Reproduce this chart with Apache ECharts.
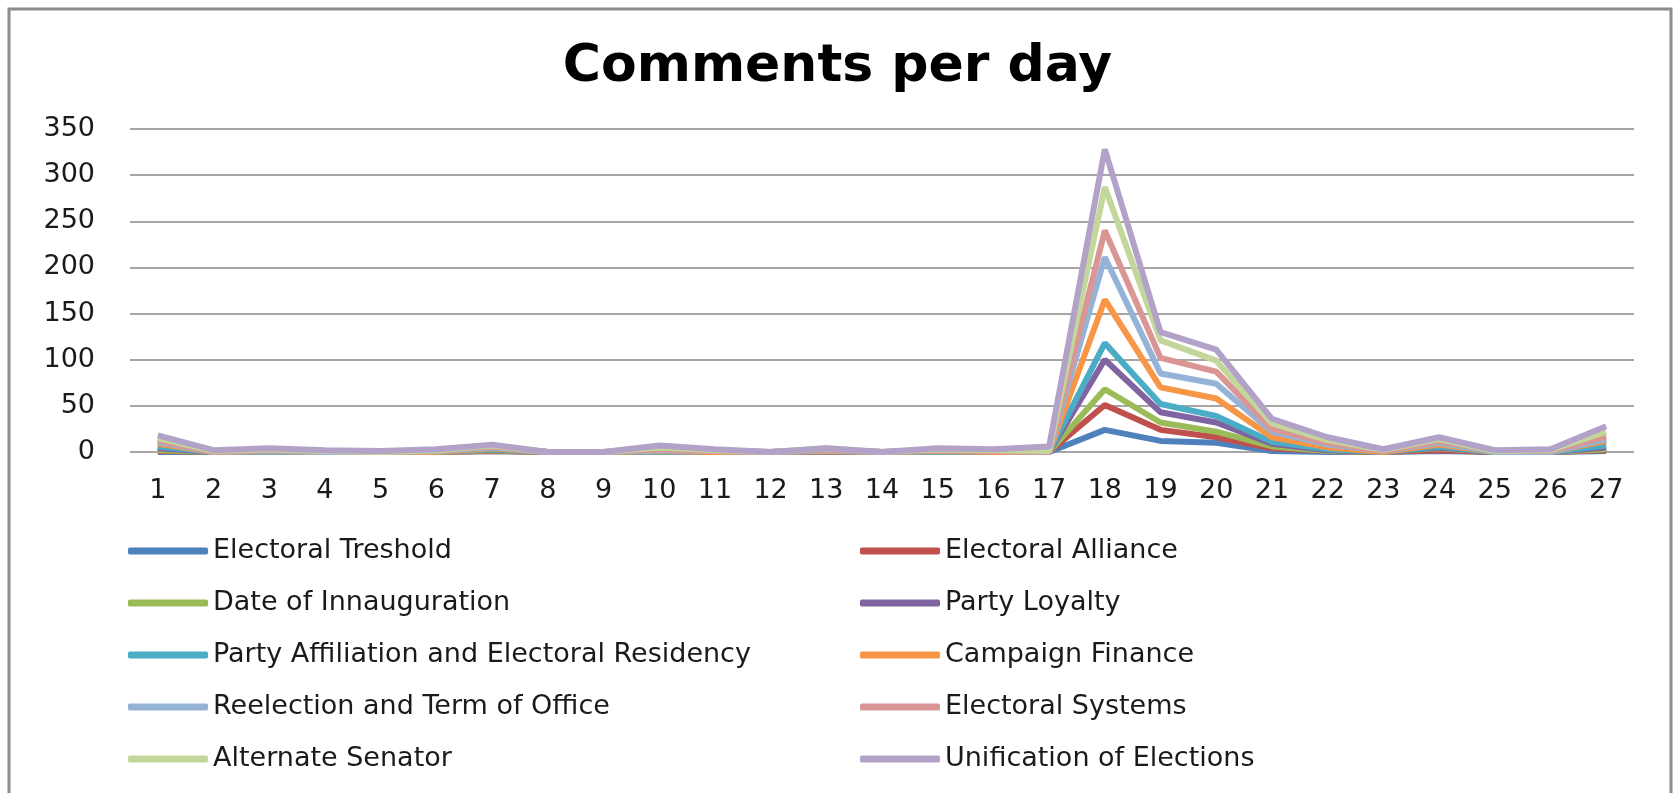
<!DOCTYPE html>
<html>
<head>
    <meta charset="utf-8">
    <title>Comments per day</title>
    <style>
        body { margin: 0; background: #fff; }
        #chart { width: 1675px; height: 793px; }
    </style>
</head>
<body>
    <div id="chart"></div>
    <script src="https://cdn.jsdelivr.net/npm/echarts@6/dist/echarts.min.js"></script>
    <script>
        (function() {
            'use strict';

            // days on the x axis
            var days = [];
            for (var d = 1; d <= 27; d++) days.push(String(d));

            // comments per topic per day (stacked in the chart)
            var electoralTreshold = [0,0,0,0,0,0,1,0,0,0,0,0,0,0,0,0,0,24,12,10,1,0,0,1,0,0,1];
            var electoralAlliance = [1,0,0,0,0,0,0,0,0,0,0,0,0,0,0,0,0,27,12,6,3,1,0,1,0,0,1];
            var dateOfInnauguration = [1,0,0,0,0,0,1,0,0,0,0,0,1,0,0,0,0,17,8,6,2,0,0,2,0,0,1];
            var partyLoyalty = [2,0,0,0,0,0,1,0,0,0,0,0,0,0,0,0,0,32,11,10,3,1,0,1,0,0,2];
            var partyAffiliation = [2,0,0,0,0,0,0,0,0,0,0,0,0,0,0,0,0,18,9,7,2,1,0,1,0,0,2];
            var campaignFinance = [3,0,1,0,0,0,1,0,0,1,0,0,0,0,1,0,0,47,18,19,5,2,0,2,0,0,5];
            var reelection = [2,0,0,0,0,1,1,0,0,1,1,0,1,0,1,1,0,46,15,16,6,3,1,2,0,0,2];
            var electoralSystems = [2,0,1,1,0,1,1,0,0,1,0,0,1,0,0,0,0,29,17,13,3,2,0,2,1,1,3];
            var alternateSenator = [2,1,1,0,0,0,1,0,0,2,1,0,1,0,1,1,1,47,19,12,6,3,1,2,0,1,5];
            var unification = [3,1,1,1,1,1,1,0,0,2,1,0,0,0,1,1,5,41,9,12,5,3,1,2,1,1,6];

            var names = [
                'Electoral Treshold', 'Electoral Alliance',
                'Date of Innauguration', 'Party Loyalty',
                'Party Affiliation and Electoral Residency', 'Campaign Finance',
                'Reelection and Term of Office', 'Electoral Systems',
                'Alternate Senator', 'Unification of Elections'
            ];
            var values = [
                electoralTreshold, electoralAlliance, dateOfInnauguration, partyLoyalty,
                partyAffiliation, campaignFinance, reelection, electoralSystems,
                alternateSenator, unification
            ];
            var colors = ['#4F81BD', '#C0504D', '#9BBB59', '#8064A2', '#4BACC6',
                          '#F79646', '#95B3D7', '#D99694', '#C3D69B', '#B3A2C7'];

            var series = names.map(function(n, i) {
                return {
                    name: n,
                    type: 'line',
                    stack: 'total',
                    data: values[i],
                    symbol: 'none',
                    lineStyle: { width: 6, color: colors[i] },
                    itemStyle: { color: colors[i] }
                };
            });

            var font = 'DejaVu Sans';
            var legendBase = {
                orient: 'vertical',
                top: 531,
                icon: 'roundRect',
                itemWidth: 80,
                itemHeight: 7,
                itemGap: 22,
                textStyle: { fontFamily: font, fontSize: 27, color: '#1a1a1a', lineHeight: 30 }
            };

            var chart = echarts.init(document.getElementById('chart'));
            chart.setOption({
                animation: false,
                color: colors,
                title: {
                    text: 'Comments per day',
                    left: 'center',
                    top: 36,
                    textStyle: { fontFamily: font, fontSize: 52, fontWeight: 'bold', color: '#000' }
                },
                legend: [
                    Object.assign({}, legendBase, {
                        left: 123,
                        data: names.filter(function(n, i) { return i % 2 === 0; })
                    }),
                    Object.assign({}, legendBase, {
                        left: 855,
                        data: names.filter(function(n, i) { return i % 2 === 1; })
                    })
                ],
                grid: { left: 130, right: 41, top: 129, bottom: 341, containLabel: false },
                xAxis: {
                    type: 'category',
                    data: days,
                    boundaryGap: true,
                    axisLine: { show: false },
                    axisTick: { show: false },
                    axisLabel: { fontFamily: font, fontSize: 27, color: '#1a1a1a', margin: 25 }
                },
                yAxis: {
                    type: 'value',
                    min: 0,
                    max: 350,
                    interval: 50,
                    axisLine: { show: false },
                    axisTick: { show: false },
                    axisLabel: { fontFamily: font, fontSize: 27, color: '#1a1a1a', margin: 35 },
                    splitLine: { lineStyle: { color: '#A6A6A6', width: 2 } }
                },
                graphic: [{
                    type: 'rect',
                    shape: { x: 9, y: 9, width: 1662, height: 800 },
                    style: { fill: 'none', stroke: '#8C8C8C', lineWidth: 3 },
                    silent: true
                }],
                series: series
            });
        }());
    </script>
</body>
</html>
